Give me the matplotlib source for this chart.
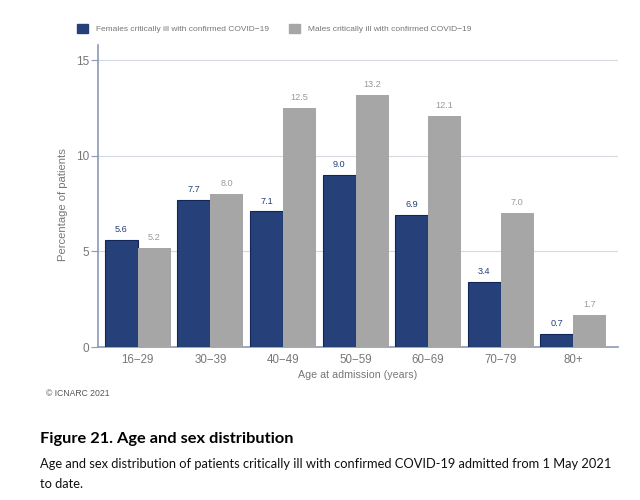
import numpy as np
import matplotlib
matplotlib.use('Agg')
import matplotlib.pyplot as plt
from matplotlib.patches import Patch

plt.rcParams['font.family'] = ['Liberation Sans', 'DejaVu Sans']

# 数据
age_groups = ['16\u221229', '30\u221239', '40\u221249', '50\u221259', '60\u221269', '70\u221279', '80+']
females = [5.6, 7.7, 7.1, 9.0, 6.9, 3.4, 0.7]
males = [5.2, 8.0, 12.5, 13.2, 12.1, 7.0, 1.7]

female_color = '#26407A'
male_color = '#A6A6A6'
axis_color = '#8A9AB8'
text_gray = '#777777'

fig = plt.figure(figsize=(6.4, 5.0), dpi=100)
ax = fig.add_axes([0.153, 0.306, 0.813, 0.604])

x = np.arange(len(age_groups))
w = 0.455
ax.bar(x - w / 2, females, w, color=female_color, edgecolor='#13265A', linewidth=0.8, zorder=3)
ax.bar(x + w / 2, males, w, color=male_color, zorder=3)

for xi, v in zip(x, females):
    ax.text(xi - w / 2, v + 0.3, f'{v:.1f}', ha='center', va='bottom',
            fontsize=6.6, color=female_color)
for xi, v in zip(x, males):
    ax.text(xi + w / 2, v + 0.3, f'{v:.1f}', ha='center', va='bottom',
            fontsize=6.6, color='#999999')

ax.set_xlim(-0.55, 6.62)
ax.set_ylim(0, 15.8)
ax.set_yticks([0, 5, 10, 15])
ax.set_xticks(x)
ax.set_xticklabels(age_groups)
ax.yaxis.grid(True, color='#D5D9E0', linewidth=0.8, zorder=0)
ax.tick_params(axis='y', colors=axis_color, labelcolor=text_gray, labelsize=8.5, length=5, pad=1)
ax.tick_params(axis='x', length=0, labelcolor=text_gray, labelsize=8.3, pad=5)
for s in ['top', 'right']:
    ax.spines[s].set_visible(False)
for s in ['left', 'bottom']:
    ax.spines[s].set_color(axis_color)
    ax.spines[s].set_linewidth(1.2)

ax.set_xlabel('Age at admission (years)', color=text_gray, fontsize=7.7, labelpad=3)
ax.set_ylabel('Percentage of patients', color=text_gray, fontsize=8.1)
ax.yaxis.set_label_coords(-0.058, 0.473)

handles = [Patch(color=female_color), Patch(color=male_color)]
fig.legend(handles, ['Females critically ill with confirmed COVID\u221219',
                     'Males critically ill with confirmed COVID\u221219'],
           loc='center', bbox_to_anchor=(0.428, 0.943), ncol=2, frameon=False,
           fontsize=6.0, labelcolor=text_gray, handlelength=1.4, handleheight=1.4,
           columnspacing=2.4, handletextpad=0.9)

fig.text(0.072, 0.214, '\u00a9 ICNARC 2021', fontsize=6.2, color='#555555', va='center')
fig.text(0.063, 0.122, 'Figure 21. Age and sex distribution', fontsize=11.8,
         fontweight='bold', family='Lato', va='center', color='black')
fig.text(0.063, 0.072, 'Age and sex distribution of patients critically ill with confirmed COVID-19 admitted from 1 May 2021',
         fontsize=9.3, family='Lato', va='center', color='#111111')
fig.text(0.063, 0.032, 'to date.', fontsize=9.3, family='Lato', va='center', color='#111111')

fig.savefig('out.png', dpi=100)
